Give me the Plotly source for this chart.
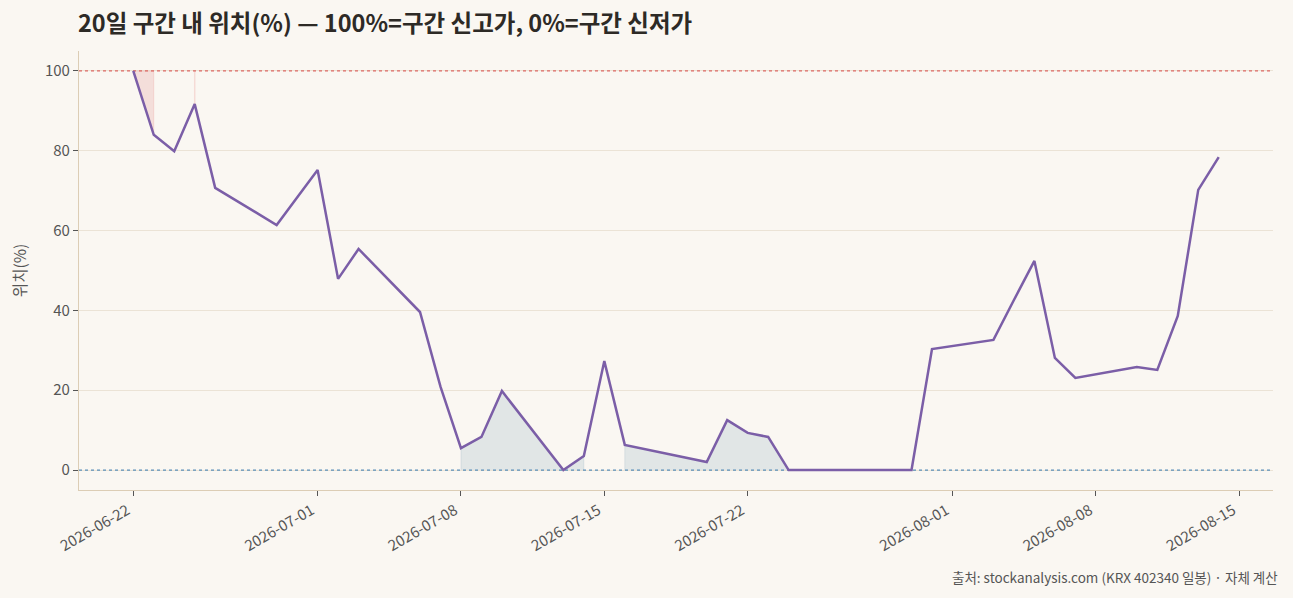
import plotly.graph_objects as go
import pandas as pd

dates = ["2026-06-22", "2026-06-23", "2026-06-24", "2026-06-25", "2026-06-26",
         "2026-06-29", "2026-06-30", "2026-07-01", "2026-07-02", "2026-07-03",
         "2026-07-06", "2026-07-07", "2026-07-08", "2026-07-09", "2026-07-10",
         "2026-07-13", "2026-07-14", "2026-07-15", "2026-07-16", "2026-07-17",
         "2026-07-20", "2026-07-21", "2026-07-22", "2026-07-23", "2026-07-24",
         "2026-07-27", "2026-07-28", "2026-07-29", "2026-07-30", "2026-07-31",
         "2026-08-03", "2026-08-04", "2026-08-05", "2026-08-06", "2026-08-07",
         "2026-08-10", "2026-08-11", "2026-08-12", "2026-08-13", "2026-08-14"]
position = [100.0, 84.0, 79.9, 91.7, 70.7,
            61.4, 68.3, 75.2, 47.9, 55.4,
            39.6, 20.9, 5.5, 8.3, 19.8,
            0.0, 3.5, 27.3, 6.3, 5.2,
            2.0, 12.5, 9.3, 8.3, 0.0,
            0.0, 0.0, 0.0, 0.0, 30.3,
            32.6, 42.6, 52.4, 28.1, 23.1,
            25.8, 25.1, 38.6, 70.2, 78.4]

tick_dates = ["2026-06-22", "2026-07-01", "2026-07-08", "2026-07-15",
              "2026-07-22", "2026-08-01", "2026-08-08", "2026-08-15"]

HIGH = 100
LOW = 0
HIGH_ZONE = 80
LOW_ZONE = 20

BG = "#faf7f2"
PURPLE = "#7b5ea7"
RED = "#d9534f"
BLUE = "#4a86b5"
FONT = "Noto Sans CJK KR"

x = pd.to_datetime(dates)

def segments(cond):
    segs, cur = [], []
    for i, c in enumerate(cond):
        if c:
            cur.append(i)
        elif cur:
            segs.append(cur)
            cur = []
    if cur:
        segs.append(cur)
    return segs

fig = go.Figure()

# high zone fill (between line and 100)
for seg in segments([v >= HIGH_ZONE for v in position]):
    xs = [x[i] for i in seg]
    ys = [position[i] for i in seg]
    if len(seg) == 1:
        fig.add_trace(go.Scatter(x=[xs[0], xs[0]], y=[ys[0], HIGH], mode="lines",
                                 line=dict(color="rgba(217,83,79,0.17)", width=1.5),
                                 hoverinfo="skip", showlegend=False))
    else:
        fig.add_trace(go.Scatter(x=xs + xs[::-1], y=ys + [HIGH] * len(xs), mode="lines",
                                 fill="toself", fillcolor="rgba(217,83,79,0.15)",
                                 line=dict(color="rgba(217,83,79,0.15)", width=1),
                                 hoverinfo="skip", showlegend=False))

# low zone fill (between 0 and line)
for seg in segments([v <= LOW_ZONE for v in position]):
    xs = [x[i] for i in seg]
    ys = [position[i] for i in seg]
    fig.add_trace(go.Scatter(x=[xs[0]] + xs + [xs[-1]], y=[LOW] + ys + [LOW], mode="lines",
                             fill="toself", fillcolor="rgba(80,130,160,0.14)",
                             line=dict(color="rgba(80,130,160,0.14)", width=1),
                             hoverinfo="skip", showlegend=False))

x0 = x[0] - pd.Timedelta(days=2.65)
x1 = x[-1] + pd.Timedelta(days=2.65)

# reference lines
fig.add_trace(go.Scatter(x=[x0, x1], y=[HIGH, HIGH], mode="lines",
                         line=dict(color=RED, width=1.3, dash="dot"),
                         opacity=0.85, hoverinfo="skip", showlegend=False))
fig.add_trace(go.Scatter(x=[x0, x1], y=[LOW, LOW], mode="lines",
                         line=dict(color=BLUE, width=1.3, dash="dot"),
                         opacity=0.9, hoverinfo="skip", showlegend=False))

# main line
fig.add_trace(go.Scatter(x=x, y=position, mode="lines",
                         line=dict(color=PURPLE, width=2.5),
                         name="위치(%)", showlegend=False))

fig.update_layout(
    width=1293, height=598,
    paper_bgcolor=BG, plot_bgcolor=BG,
    margin=dict(l=79, r=20, t=51, b=108),
    font=dict(family=FONT, size=15, color="#555555"),
    title=dict(text="<b>20일 구간 내 위치(%) — 100%=구간 신고가, 0%=구간 신저가</b>",
               x=78 / 1293, xanchor="left", xref="container",
               y=1 - 24 / 598, yanchor="middle", yref="container",
               font=dict(family=FONT, size=23.5, color="#2d2a26")),
    showlegend=False,
)

fig.update_xaxes(
    type="date", range=[x0, x1],
    tickvals=pd.to_datetime(tick_dates), ticktext=tick_dates,
    tickangle=-30, ticks="outside", ticklen=5, tickcolor="#555555",
    ticklabelshift=-6,
    showgrid=False, showline=True, linecolor="#dccdb5", linewidth=1.2,
    zeroline=False, tickfont=dict(size=15, color="#555555"),
)
fig.update_yaxes(
    range=[-5, 105], tickvals=[0, 20, 40, 60, 80, 100],
    ticks="outside", ticklen=5, tickcolor="#555555",
    showgrid=True, gridcolor="#ebe3d6", gridwidth=1,
    showline=True, linecolor="#dccdb5", linewidth=1.2, zeroline=False,
    title=dict(text="위치(%)", font=dict(size=15.5, color="#555555"), standoff=14),
    tickfont=dict(size=15, color="#555555"),
)

fig.add_annotation(text="출처: stockanalysis.com (KRX 402340 일봉) · 자체 계산",
                   xref="paper", yref="paper", x=1, y=-(577 - 490) / 439,
                   xanchor="right", yanchor="middle", xshift=7, showarrow=False,
                   font=dict(family=FONT, size=13.5, color="#555555"))

fig.write_html("out.html",
               config={"displayModeBar": False},
               post_script="document.body.style.margin='0';"
                           "document.body.style.background='#faf7f2';")
